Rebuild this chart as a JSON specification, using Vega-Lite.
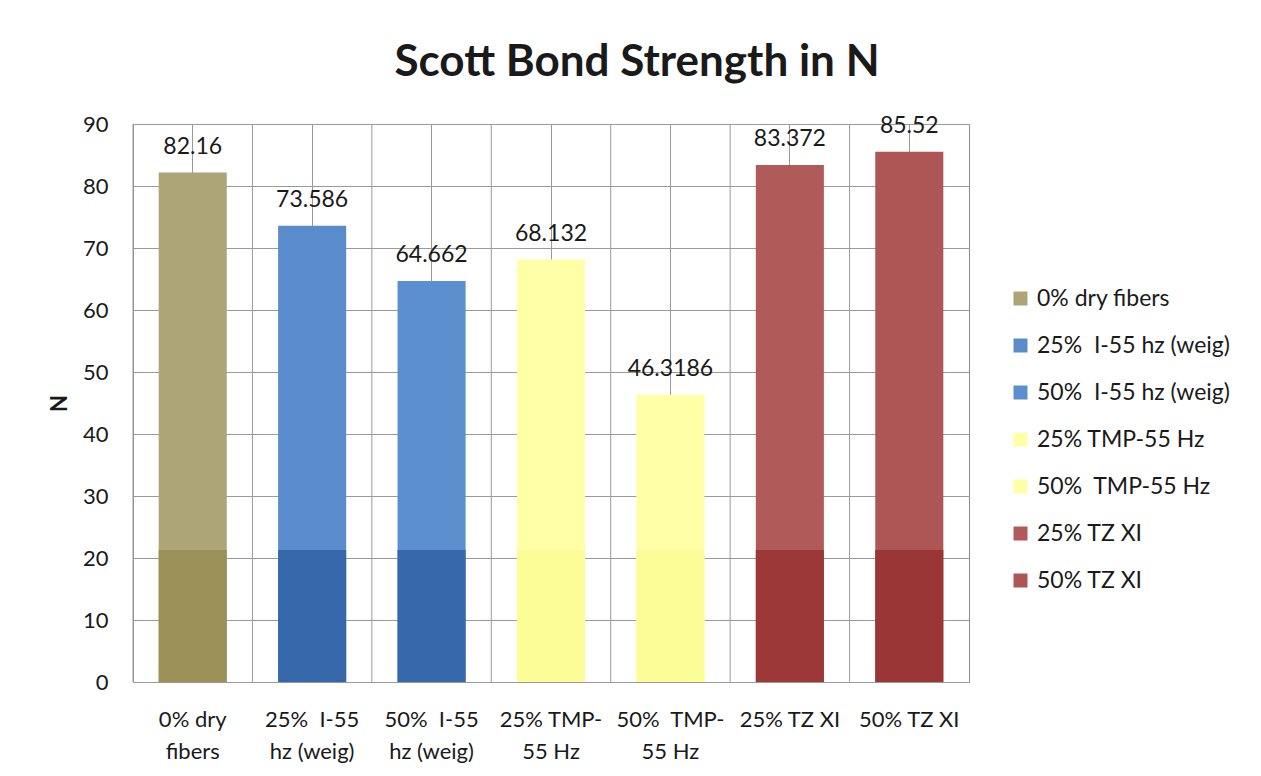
{
  "$schema": "https://vega.github.io/schema/vega-lite/v6.json",
  "width": 836,
  "height": 558,
  "autosize": {"type": "none"},
  "padding": {"left": 133, "top": 124, "right": 292, "bottom": 94},
  "background": "white",
  "config": {
    "font": "Lato",
    "view": {"stroke": "#8c8c8c", "strokeWidth": 1}
  },
  "title": {
    "text": "Scott Bond Strength in N",
    "font": "Lato",
    "fontSize": 44,
    "fontWeight": "bold",
    "color": "#1a1a1a",
    "anchor": "middle",
    "frame": "group",
    "dx": 86,
    "baseline": "alphabetic",
    "offset": -7
  },
  "data": {
    "values": [
      {"category": "0% dry fibers", "value": 82.16},
      {"category": "25%\u00a0 I-55 hz (weig)", "value": 73.586},
      {"category": "50%\u00a0 I-55 hz (weig)", "value": 64.662},
      {"category": "25% TMP-55 Hz", "value": 68.132},
      {"category": "50%\u00a0 TMP-55 Hz", "value": 46.3186},
      {"category": "25% TZ XI", "value": 83.372},
      {"category": "50% TZ XI", "value": 85.52}
    ]
  },
  "layer": [
    {
      "mark": {"type": "rule", "color": "#9a9a9a", "strokeWidth": 1},
      "encoding": {
        "x": {
          "field": "category", "type": "nominal", "sort": null, "bandPosition": 0,
          "scale": {"paddingInner": 0, "paddingOuter": 0},
          "axis": {
            "title": null, "labelAngle": 0, "ticks": false, "domain": false,
            "grid": true, "gridColor": "#9a9a9a", "gridOpacity": 1, "bandPosition": 0.5,
            "labelFont": "Lato", "labelFontSize": 22, "labelColor": "#1a1a1a",
            "labelPadding": 27, "labelLineHeight": 32, "labelBaseline": "top",
            "labelExpr": "split(replace(replace(replace(datum.label, ' fibers', '|fibers'), ' hz', '|hz'), 'TMP-', 'TMP-|'), '|')"
          }
        }
      }
    },
    {
      "mark": {"type": "bar", "width": {"band": 0.57}},
      "encoding": {
        "x": {"field": "category", "type": "nominal", "sort": null},
        "y": {
          "field": "value", "type": "quantitative",
          "scale": {"domain": [0, 90]},
          "axis": {
            "title": "N", "titleFont": "Lato", "titleFontSize": 22, "titleFontWeight": "bold",
            "titleColor": "#1a1a1a", "titlePadding": 11,
            "values": [0, 10, 20, 30, 40, 50, 60, 70, 80, 90],
            "ticks": false, "domain": false, "grid": true, "gridColor": "#9a9a9a", "gridOpacity": 1,
            "labelFont": "Lato", "labelFontSize": 22, "labelColor": "#1a1a1a", "labelPadding": 25
          }
        },
        "color": {
          "field": "category", "type": "nominal", "sort": null,
          "scale": {
            "domain": ["0% dry fibers", "25%\u00a0 I-55 hz (weig)", "50%\u00a0 I-55 hz (weig)", "25% TMP-55 Hz", "50%\u00a0 TMP-55 Hz", "25% TZ XI", "50% TZ XI"],
            "range": ["#ADA477", "#5A8CCB", "#5B8FCD", "#FFFFA8", "#FFFFA8", "#B05A5A", "#AE5555"]
          },
          "legend": {
            "title": null, "orient": "none", "legendX": 876, "legendY": 163,
            "symbolType": "square", "symbolSize": 196, "symbolStrokeWidth": 0,
            "labelFont": "Lato", "labelFontSize": 23, "labelColor": "#1a1a1a",
            "labelOffset": 5, "rowPadding": 23, "padding": 0, "labelLimit": 300
          }
        }
      }
    },
    {
      "mark": {"type": "bar", "width": {"band": 0.57}},
      "encoding": {
        "x": {"field": "category", "type": "nominal", "sort": null},
        "y": {"datum": 0, "type": "quantitative"},
        "y2": {"datum": 21.3},
        "color": {
          "field": "category", "type": "nominal", "sort": null,
          "scale": {
            "domain": ["0% dry fibers", "25%\u00a0 I-55 hz (weig)", "50%\u00a0 I-55 hz (weig)", "25% TMP-55 Hz", "50%\u00a0 TMP-55 Hz", "25% TZ XI", "50% TZ XI"],
            "range": ["#9B9058", "#3567AA", "#3668AB", "#FDFD98", "#FDFD98", "#9C3838", "#9A3636"]
          },
          "legend": null
        }
      }
    },
    {
      "mark": {"type": "text", "font": "Lato", "fontSize": 23, "color": "#1a1a1a", "baseline": "alphabetic", "dy": -19},
      "encoding": {
        "x": {"field": "category", "type": "nominal", "sort": null},
        "y": {"field": "value", "type": "quantitative"},
        "text": {"field": "value", "type": "nominal"}
      }
    }
  ],
  "resolve": {"scale": {"color": "independent"}}
}
